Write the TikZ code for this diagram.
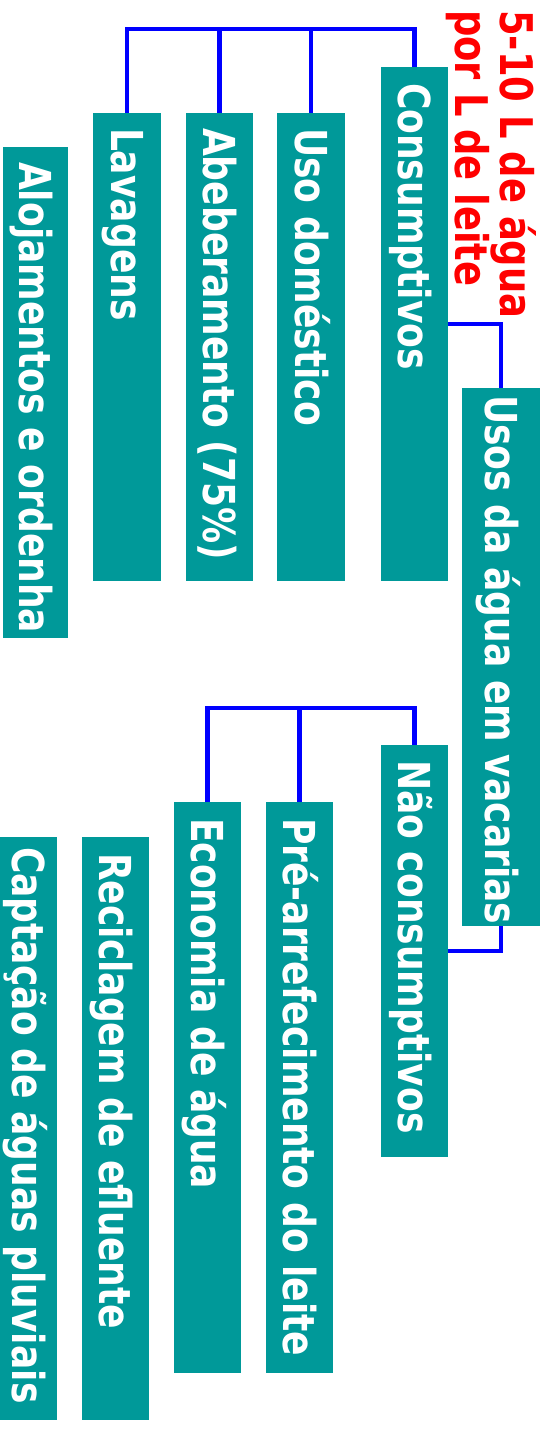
\documentclass[tikz,border=0pt]{standalone}
\usepackage{fontspec}
\newfontfamily\boxfont[FakeStretch=0.82]{DejaVu Sans Bold}
\definecolor{boxteal}{RGB}{0,153,153}
\definecolor{linkblue}{RGB}{0,0,255}
\definecolor{notered}{RGB}{255,0,0}
% one unbroken line of text, set flush left in a field of the given width
\newcommand{\lline}[2]{\makebox[#1][l]{#2}}
\tikzset{
  vbox/.style={rotate=-90, fill=boxteal, text=white,
    font=\boxfont\fontsize{44}{44}\selectfont,
    inner ysep=0pt, text height=32pt, text depth=0pt},
  link/.style={draw=linkblue, line width=4.5pt},
}
\begin{document}
\begin{tikzpicture}[x=1pt, y=-1pt]
\useasboundingbox (0,0) rectangle (547,1429);

% consumptive uses
\node[vbox, minimum width=514pt, minimum height=67pt, inner xsep=16pt] (cons) at (414.5,324) {\lline{482pt}{Consumptivos}};
\node[vbox, minimum width=468pt, minimum height=68pt, inner xsep=15pt] (dom) at (311,347) {\lline{438pt}{Uso doméstico}};
\node[vbox, minimum width=468pt, minimum height=67pt, inner xsep=15pt] (abe) at (219.5,347) {\lline{438pt}{Abeberamento (75\%)}};
\node[vbox, minimum width=468pt, minimum height=68pt, inner xsep=15pt] (lav) at (127,347) {\lline{438pt}{Lavagens}};
\node[vbox, minimum width=491pt, minimum height=65pt, inner xsep=15pt] (aloj) at (35.5,392.5) {\lline{461pt}{Alojamentos e ordenha}};

% root
\node[vbox, minimum width=538pt, minimum height=78pt, inner xsep=7pt] (usos) at (501,657) {\lline{524pt}{Usos da água em vacarias}};

% non-consumptive uses
\node[vbox, minimum width=412pt, minimum height=67pt, inner xsep=15pt] (nao) at (414.5,951) {\lline{382pt}{Não consumptivos}};
\node[vbox, minimum width=571pt, minimum height=67pt, inner xsep=16pt] (pre) at (299.5,1087.5) {\lline{539pt}{Pré-arrefecimento do leite}};
\node[vbox, minimum width=571pt, minimum height=67pt, inner xsep=16pt] (eco) at (207.5,1087.5) {\lline{539pt}{Economia de água}};
\node[vbox, minimum width=583pt, minimum height=67pt, inner xsep=16pt] (rec) at (115.5,1128.5) {\lline{551pt}{Reciclagem de efluente}};
\node[vbox, minimum width=583pt, minimum height=57pt, inner xsep=10pt] (capt) at (28.5,1128.5) {\lline{563pt}{Captação de águas pluviais}};

% note
\node[rotate=-90, anchor=north west, text=notered, inner sep=0pt, align=left,
      font=\boxfont\fontsize{45}{41}\selectfont] (note) at (537,10)
      {5-10 L de água\\por L de leite};

% connectors
\coordinate (topbar) at (0,29);
\coordinate (nbar) at (0,708);
\draw[link] (lav.west) -- (lav.west |- topbar) -| (cons.west);
\draw[link] (abe.west) -- (abe.west |- topbar);
\draw[link] (dom.west) -- (dom.west |- topbar);
\draw[link] (cons.north) -| (usos.west);
\draw[link] (usos.east) |- (nao.north);
\draw[link] (eco.west) -- (eco.west |- nbar) -| (nao.west);
\draw[link] (pre.west) -- (pre.west |- nbar);
\end{tikzpicture}
\end{document}
